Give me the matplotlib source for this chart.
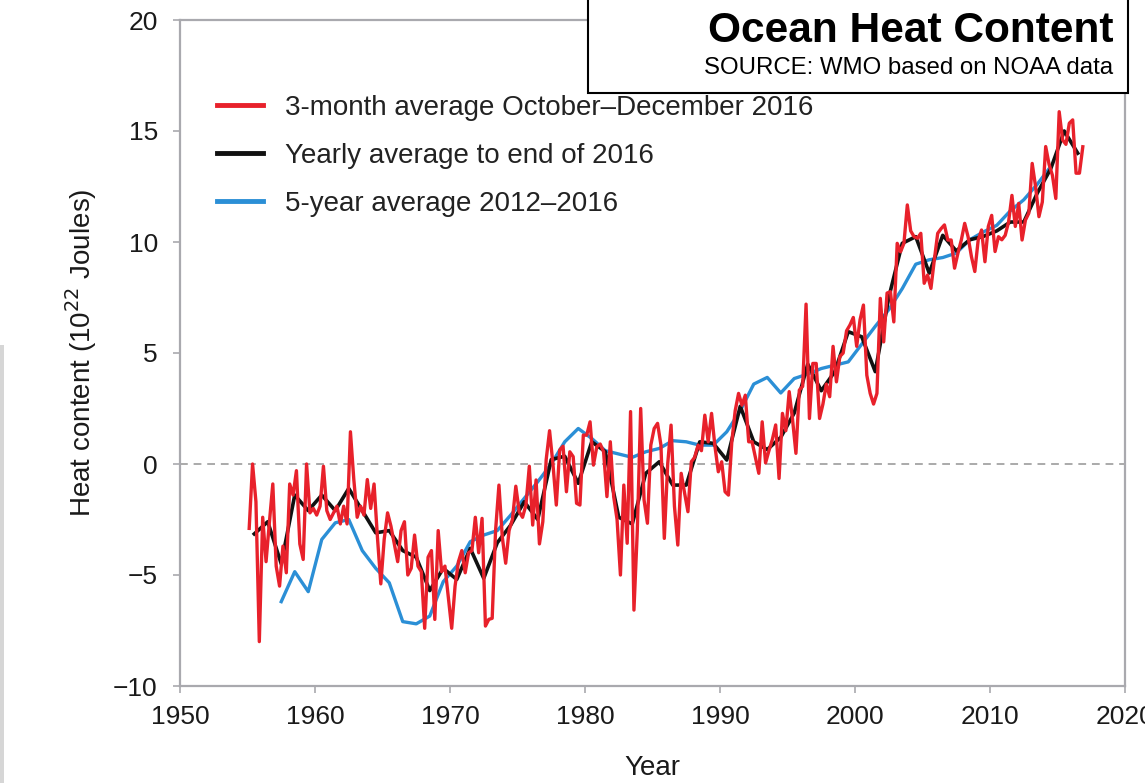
import matplotlib
matplotlib.use("Agg")
import matplotlib.pyplot as plt
from matplotlib.patches import Rectangle
import numpy as np

plt.rcParams["font.family"] = ["Liberation Sans", "DejaVu Sans"]

# 3-month averages, four per year from 1955 to 2016 (10^22 J)
red_vals = [
    -2.9, 0.0, -1.7, -8.0,      # 1955
    -2.4, -4.4, -2.6, -0.9,     # 1956
    -4.6, -5.5, -3.7, -4.9,     # 1957
    -0.9, -1.4, -0.3, -3.6,     # 1958
    -4.3, 0.0, -2.2, -2.0,      # 1959
    -2.3, -1.9, -0.1, -2.1,     # 1960
    -2.5, -2.2, -1.9, -2.7,     # 1961
    -1.9, -2.7, 1.45, -0.7,     # 1962
    -2.4, -1.9, -2.3, -0.7,     # 1963
    -2.0, -0.9, -3.3, -5.4,     # 1964
    -3.4, -2.2, -2.8, -3.6,     # 1965
    -4.4, -3.0, -2.6, -5.0,     # 1966
    -4.7, -3.2, -4.6, -4.85,    # 1967
    -7.4, -4.2, -3.9, -7.0,     # 1968
    -3.0, -4.85, -4.6, -6.0,    # 1969
    -7.4, -5.5, -4.4, -3.9,     # 1970
    -4.9, -4.0, -3.9, -2.4,     # 1971
    -4.0, -2.45, -7.3, -7.0,    # 1972
    -6.95, -3.0, -0.95, -3.3,   # 1973
    -4.47, -3.0, -2.5, -1.0,    # 1974
    -2.15, -2.4, -1.85, -0.1,   # 1975
    -2.75, -0.72, -3.6, -2.6,   # 1976
    0.2, 1.5, 0.0, -1.85,       # 1977
    0.63, 0.8, -1.25, 0.55,     # 1978
    0.33, -1.77, -1.85, 1.3,    # 1979
    1.3, 1.9, -0.05, 0.78,      # 1980
    0.9, 0.56, -1.47, 1.0,      # 1981
    -1.47, -2.5, -5.0, -0.95,   # 1982
    -3.57, 2.36, -6.58, -3.0,   # 1983
    2.5, -1.62, -2.67, 0.85,    # 1984
    1.6, 1.83, 0.85, -3.35,     # 1985
    0.0, 1.75, -1.9, -3.65,     # 1986
    -0.42, -1.3, -2.15, 0.1,    # 1987
    0.3, 0.85, 0.6, 2.2,        # 1988
    1.0, 2.28, 0.8, -0.35,      # 1989
    0.1, -1.25, -1.4, 1.0,      # 1990
    2.4, 3.18, 2.65, 3.1,       # 1991
    1.0, 1.0, 0.3, -0.42,       # 1992
    1.9, 0.05, 0.6, 1.1,        # 1993
    1.76, -0.65, 2.28, 1.5,     # 1994
    3.26, 2.0, 0.48, 3.33,      # 1995
    3.5, 7.2, 2.05, 4.53,       # 1996
    4.53, 2.05, 2.7, 3.6,       # 1997
    3.03, 5.3, 3.7, 4.84,       # 1998
    5.0, 6.0, 6.26, 6.6,        # 1999
    5.3, 6.5, 7.16, 4.0,        # 2000
    3.18, 2.7, 3.18, 7.46,      # 2001
    5.5, 7.7, 7.76, 6.4,        # 2002
    9.94, 9.56, 9.94, 11.67,    # 2003
    10.5, 10.24, 10.17, 10.39,  # 2004
    8.14, 8.51, 7.91, 9.19,     # 2005
    10.39, 10.6, 10.77, 10.09,  # 2006
    10.09, 8.82, 9.5, 10.09,    # 2007
    10.84, 10.24, 9.34, 8.67,   # 2008
    10.09, 10.54, 9.11, 10.7,   # 2009
    11.2, 9.57, 10.24, 10.1,    # 2010
    10.3, 10.9, 12.1, 10.7,     # 2011
    11.74, 10.09, 10.99, 11.3,  # 2012
    13.54, 12.5, 11.14, 11.8,   # 2013
    14.3, 13.5, 13.0, 11.96,    # 2014
    15.87, 14.6, 14.4, 15.35,   # 2015
    15.5, 13.1, 13.1, 14.29,    # 2016
]

# yearly averages 1955-2016
year_years = list(range(1955, 2017))
year_vals = [
    -3.15, -2.6, -4.5, -1.4, -2.1, -1.4, -2.1, -1.1, -2.1, -3.1,
    -3.0, -3.9, -4.2, -5.7, -4.7, -5.2, -3.8, -5.15, -3.55, -2.75,
    -1.7, -2.5, 0.2, 0.35, -0.87, 1.0, 0.56, -2.4, -2.7, -0.42,
    0.1, -0.95, -0.95, 1.0, 0.93, 0.18, 2.6, 1.0, 0.65, 1.2,
    2.3, 4.5, 3.3, 4.16, 5.96, 5.73, 4.16, 7.5, 9.94, 10.24,
    8.6, 10.3, 9.6, 10.1, 10.25, 10.5, 10.9, 10.9, 12.2, 13.3,
    15.0, 14.0,
]

# 5-year running averages, centred years 1957-2014
pent_years = list(range(1957, 2015))
pent_vals = [
    -6.2, -4.85, -5.75, -3.4, -2.65, -2.5, -3.9, -4.7, -5.35, -7.1,
    -7.2, -6.85, -5.3, -4.6, -3.5, -3.2, -3.0, -2.3, -1.55, -0.8,
    0.0, 1.0, 1.6, 1.15, 0.6, 0.45, 0.3, 0.55, 0.7, 1.05,
    1.0, 0.85, 0.85, 1.45, 2.4, 3.6, 3.9, 3.2, 3.85, 4.05,
    4.3, 4.45, 4.6, 5.4, 6.2, 6.95, 7.9, 9.0, 9.2, 9.3,
    9.5, 10.1, 10.45, 10.75, 11.4, 11.9, 12.6, 13.4,
]

labels = [
    "3-month average October\u2013December 2016",
    "Yearly average to end of 2016",
    "5-year average 2012\u20132016",
]

red_x = 1955.125 + 0.25 * np.arange(len(red_vals))
year_x = np.array(year_years) + 0.5
pent_x = np.array(pent_years) + 0.5

W, H = 1145, 783
fig = plt.figure(figsize=(W / 100, H / 100), dpi=100)
ax = fig.add_axes([180 / W, 1 - 686 / H, (1125 - 180) / W, (686 - 20) / H])

grey = "#a9a9ae"
txt = "#1a1a1a"
ax.axhline(0, color="#aaaaaa", lw=1.4, ls=(0, (4, 3)), zorder=1)
l1, = ax.plot(red_x, red_vals, color="#e8212b", lw=2.4, zorder=4)
l2, = ax.plot(year_x, year_vals, color="#111111", lw=2.6, zorder=3)
l3, = ax.plot(pent_x, pent_vals, color="#2b8fd6", lw=2.4, zorder=2)

ax.set_xlim(1950, 2020)
ax.set_ylim(-10, 20)
ax.set_xticks(range(1950, 2021, 10))
ax.set_yticks(range(-10, 21, 5))
for s in ax.spines.values():
    s.set_color(grey)
    s.set_linewidth(1.6)
ax.tick_params(direction="out", length=5, width=1.2, color=grey,
               labelsize=19, labelcolor=txt)
ax.tick_params(axis="y", pad=11)
ax.tick_params(axis="x", pad=9)

ax.set_ylabel("Heat content (10$^{22}$ Joules)", fontsize=20, color=txt)
ax.yaxis.set_label_coords(-0.086, 0.5)
ax.set_xlabel("Year", fontsize=20, color=txt)
ax.xaxis.set_label_coords(0.5, -0.104)

leg = ax.legend([l1, l2, l3], labels, loc="upper left",
                bbox_to_anchor=(0.039, 0.888), frameon=False, fontsize=20,
                handlelength=1.65, handletextpad=0.8, labelspacing=0.8,
                borderpad=0, borderaxespad=0)
for h in leg.get_lines():
    h.set_linewidth(3.5)
for t in leg.get_texts():
    t.set_color("#222222")

# title box in the top-right corner
fig.add_artist(Rectangle((588 / W, 1 - 93 / H), 540 / W, 100 / H,
                         transform=fig.transFigure, facecolor="white",
                         edgecolor="black", lw=1.5, zorder=5))
fig.text(1113 / W, 1 - 31 / H, "Ocean Heat Content", ha="right", va="center",
         fontsize=30.6, fontweight="bold", color="black", zorder=6)
fig.text(1113 / W, 1 - 68 / H, "SOURCE: WMO based on NOAA data", ha="right",
         va="center", fontsize=17.3, color="black", zorder=6)

# thin grey strip on the left edge of the screenshot
fig.add_artist(Rectangle((0, 0), 4 / W, (783 - 345) / H,
                         transform=fig.transFigure, facecolor="#d6d6d6",
                         edgecolor="none", zorder=5))

fig.savefig("out.png", dpi=100)
